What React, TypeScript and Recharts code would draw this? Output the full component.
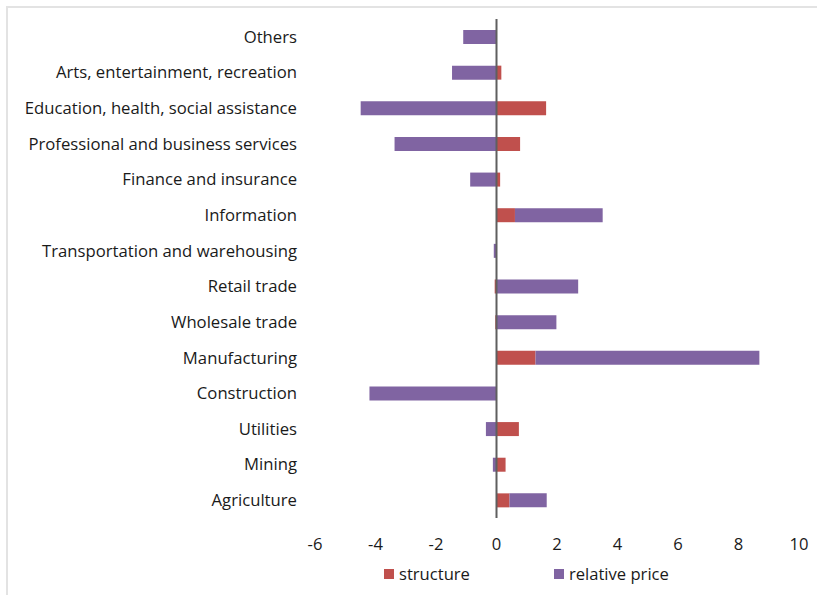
import { BarChart, Bar, XAxis, YAxis, ReferenceLine, Legend } from 'recharts';

const categories = [
  'Others',
  'Arts, entertainment, recreation',
  'Education, health, social assistance',
  'Professional and business services',
  'Finance and insurance',
  'Information',
  'Transportation and warehousing',
  'Retail trade',
  'Wholesale trade',
  'Manufacturing',
  'Construction',
  'Utilities',
  'Mining',
  'Agriculture',
];

const structure = [0, 0.16, 1.64, 0.78, 0.12, 0.61, 0, -0.06, -0.04, 1.29, 0, 0.74, 0.3, 0.43];
const relativePrice = [-1.1, -1.47, -4.49, -3.37, -0.87, 2.9, -0.09, 2.7, 1.98, 7.4, -4.2, -0.35, -0.12, 1.23];

const xTicks = [-6, -4, -2, 0, 2, 4, 6, 8, 10];

const RED = '#C0504D';
const PURPLE = '#8064A2';
const FONT = '"Open Sans", Lato, sans-serif';

const data = categories.map((name, i) => ({
  name,
  structure: structure[i],
  relativePrice: relativePrice[i],
}));

const legendItems = [
  { label: 'structure', color: RED },
  { label: 'relative price', color: PURPLE },
];

function ChartLegend() {
  return (
    <div style={{ display: 'flex', gap: 84, paddingLeft: 384, paddingTop: 4, fontFamily: FONT, fontSize: 16.6, color: '#1a1a1a' }}>
      {legendItems.map((it) => (
        <div key={it.label} style={{ display: 'flex', alignItems: 'center' }}>
          <span style={{ width: 10, height: 10, background: it.color, display: 'inline-block', marginRight: 5 }} />
          {it.label}
        </div>
      ))}
    </div>
  );
}

export default function App() {
  return (
    <div style={{ position: 'absolute', left: 0, top: 0, width: 817, height: 595, background: '#fff', overflow: 'hidden' }}>
      <style>{'body{margin:0}'}</style>
      <div style={{ position: 'absolute', left: 6, top: 6, width: 830, height: 610, border: '2px solid #e3e3e3', boxSizing: 'border-box' }} />
      <BarChart
        width={817}
        height={595}
        data={data}
        layout="vertical"
        stackOffset="sign"
        barSize={14}
        margin={{ top: 19, right: 18, bottom: 12, left: 0 }}
        style={{ position: 'absolute', left: 0, top: 0 }}
      >
        <XAxis
          type="number"
          domain={[-6, 10]}
          ticks={xTicks}
          axisLine={false}
          tickLine={false}
          tickMargin={14}
          height={40}
          tick={{ fontSize: 16.6, fill: '#1a1a1a', fontFamily: FONT }}
        />
        <YAxis
          type="category"
          dataKey="name"
          width={315}
          axisLine={false}
          tickLine={false}
          tickSize={0}
          tickMargin={18}
          interval={0}
          tick={{ fontSize: 16.7, fill: '#1a1a1a', fontFamily: FONT }}
        />
        <Bar dataKey="structure" name="structure" stackId="a" fill={RED} isAnimationActive={false} />
        <Bar dataKey="relativePrice" name="relative price" stackId="a" fill={PURPLE} isAnimationActive={false} />
        <ReferenceLine x={0} stroke="#5f5f5f" strokeWidth={2} />
        <Legend verticalAlign="bottom" height={25} content={() => <ChartLegend />} />
      </BarChart>
    </div>
  );
}
